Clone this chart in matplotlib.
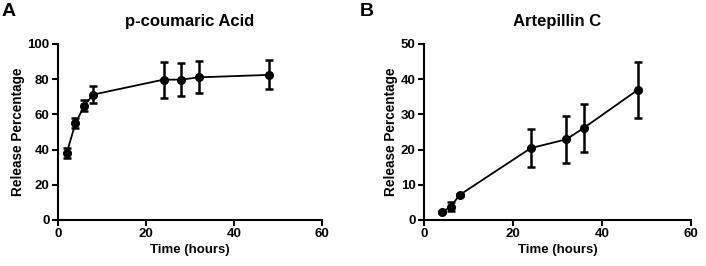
import numpy as np
import matplotlib
matplotlib.use("Agg")
import matplotlib.pyplot as plt

plt.rcParams["font.family"] = ["Liberation Sans", "DejaVu Sans"]
plt.rcParams["font.weight"] = "bold"

# p-coumaric acid release
time_a = [2, 4, 6, 8, 24, 28, 32, 48]
release_a = [38.0, 55.0, 64.9, 71.2, 79.7, 79.7, 81.0, 82.4]
err_a = [2.8, 2.8, 3.2, 5.0, 10.2, 9.3, 9.0, 8.2]

# Artepillin C release
time_b = [4, 6, 8, 24, 32, 36, 48]
release_b = [2.2, 3.8, 7.1, 20.4, 22.9, 26.2, 36.9]
err_b = [0.3, 1.3, 0.4, 5.4, 6.7, 6.8, 7.9]

panels = [
    ("A", "p-coumaric Acid", time_a, release_a, err_a, 100, 20),
    ("B", "Artepillin C", time_b, release_b, err_b, 50, 10),
]

fig = plt.figure(figsize=(7.06, 2.66), dpi=100)
lefts = [0.082, 0.6006]
for (letter, title, t, r, e, ymax, ystep), left in zip(panels, lefts):
    ax = fig.add_axes([left, 0.173, 0.374 if letter == "A" else 0.378, 0.662])
    ax.errorbar(t, r, yerr=e, fmt="o-", color="black", markersize=5.5,
                linewidth=1.3, elinewidth=1.8, capsize=3, capthick=1.8)
    ax.set_xlim(0, 60)
    ax.set_ylim(0, ymax)
    ax.set_xticks(np.arange(0, 61, 20))
    ax.set_yticks(np.arange(0, ymax + 1, ystep))
    for s in ["top", "right"]:
        ax.spines[s].set_visible(False)
    for s in ["left", "bottom"]:
        ax.spines[s].set_linewidth(1.5)
    ax.tick_params(direction="out", length=4, width=1.5, labelsize=9.5, pad=2)
    for lab in ax.get_xticklabels() + ax.get_yticklabels():
        lab.set_fontweight("bold")
    ax.set_xlabel("Time (hours)", fontsize=9.5, fontweight="bold", labelpad=3)
    ax.set_ylabel("Release Percentage", fontsize=9.8, fontweight="bold", labelpad=2)
    ax.set_title(title, fontsize=12, fontweight="bold", pad=13)
    fx = 0.0 if letter == "A" else 0.507
    fig.text(fx + 0.002, 0.99, letter, fontsize=14, fontweight="bold",
             va="top", ha="left")

fig.savefig("out.png", dpi=100)
